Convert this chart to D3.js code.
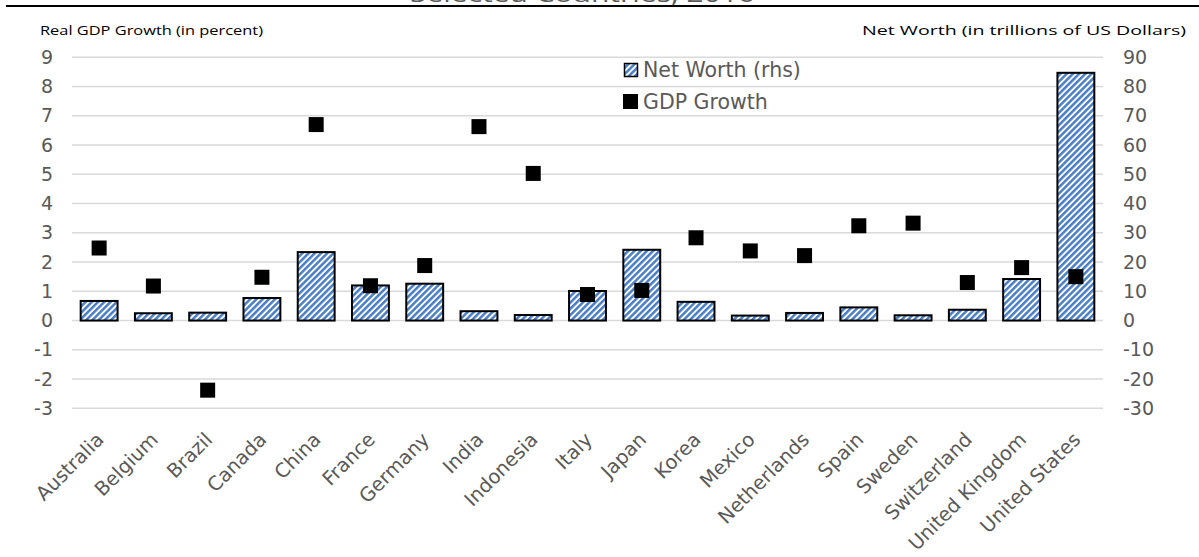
<!DOCTYPE html>
<html>
<head>
<meta charset="utf-8">
<script src="https://cdn.jsdelivr.net/npm/d3@7"></script>
<style>
html,body{margin:0;padding:0;background:#fff;}
svg{display:block;}
</style>
</head>
<body>
<svg id="chart" width="1199" height="557"></svg>
<script>
const categories = ["Australia","Belgium","Brazil","Canada","China","France","Germany","India","Indonesia","Italy","Japan","Korea","Mexico","Netherlands","Spain","Sweden","Switzerland","United Kingdom","United States"];
const netWorth = [6.7,2.5,2.7,7.7,23.4,12.0,12.6,3.2,1.9,10.1,24.2,6.4,1.7,2.6,4.5,1.8,3.7,14.2,84.7];
const gdpGrowth = [2.48,1.18,-2.38,1.48,6.7,1.19,1.88,6.63,5.03,0.89,1.03,2.83,2.38,2.22,3.24,3.33,1.30,1.81,1.50];
const leftTicks = [-3,-2,-1,0,1,2,3,4,5,6,7,8,9];
const rightTicks = [-30,-20,-10,0,10,20,30,40,50,60,70,80,90];

const svg = d3.select("#chart");
const x0 = 72, x1 = 1103, yTop = 57.3, yBot = 408.3;
const x = d3.scaleBand().domain(categories).range([x0, x1]).paddingInner(0.32).paddingOuter(0.16);
const xc = d => x(d) + x.bandwidth()/2;
const yL = d3.scaleLinear().domain([-3, 9]).range([yBot, yTop]);
const yR = d3.scaleLinear().domain([-30, 90]).range([yBot, yTop]);
const FONT = "DejaVu Sans, Verdana, sans-serif";
const GRAY = "#595959";

const defs = svg.append("defs");
const pat = defs.append("pattern").attr("id","hatch").attr("patternUnits","userSpaceOnUse")
  .attr("width",4.4).attr("height",4.4).attr("patternTransform","rotate(45)");
pat.append("rect").attr("width",4.4).attr("height",4.4).attr("fill","#fff");
pat.append("rect").attr("width",2.5).attr("height",4.4).attr("fill","#4a7ec6");

// title (cut off at top edge, as in the reference) and top rule
svg.append("text").attr("x",410).attr("y",1.8)
  .attr("textLength",345).attr("lengthAdjust","spacingAndGlyphs")
  .attr("font-family","Open Sans, sans-serif").attr("font-size",22).attr("fill",GRAY)
  .text("Selected Countries, 2016");
svg.append("rect").attr("x",6).attr("y",5).attr("width",1193).attr("height",2).attr("fill","#000");

// axis titles
svg.append("text").attr("x",40).attr("y",35).attr("font-family","Open Sans, sans-serif")
  .attr("textLength",223).attr("lengthAdjust","spacingAndGlyphs")
  .attr("font-size",13).attr("fill","#000").text("Real GDP Growth (in percent)");
svg.append("text").attr("x",862).attr("y",35).attr("font-family","Open Sans, sans-serif")
  .attr("textLength",324).attr("lengthAdjust","spacingAndGlyphs")
  .attr("font-size",13).attr("fill","#000").text("Net Worth (in trillions of US Dollars)");

// gridlines
svg.append("g").selectAll("line").data(leftTicks).join("line")
  .attr("x1",x0).attr("x2",x1).attr("y1",d=>yL(d)).attr("y2",d=>yL(d))
  .attr("stroke","#d9d9d9").attr("stroke-width",1.5);

// left axis
const gl = svg.append("g").attr("transform",`translate(${x0},0)`)
  .call(d3.axisLeft(yL).tickValues(leftTicks).tickSize(0).tickPadding(19).tickFormat(d => String(d)));
gl.select(".domain").remove();
gl.selectAll("text").attr("font-family",FONT).attr("font-size",19).attr("fill",GRAY);

// right axis
const gr = svg.append("g").attr("transform",`translate(${x1},0)`)
  .call(d3.axisRight(yR).tickValues(rightTicks).tickSize(0).tickPadding(20).tickFormat(d => String(d)));
gr.select(".domain").remove();
gr.selectAll("text").attr("font-family",FONT).attr("font-size",19).attr("fill",GRAY);

// bars
svg.append("g").selectAll("rect").data(categories).join("rect")
  .attr("x",d=>x(d)).attr("width",x.bandwidth())
  .attr("y",(d,i)=>yR(netWorth[i])).attr("height",(d,i)=>yR(0)-yR(netWorth[i]))
  .attr("fill","url(#hatch)").attr("stroke","#000").attr("stroke-width",2);

// points
const s = 15;
svg.append("g").selectAll("rect").data(categories).join("rect")
  .attr("x",d=>xc(d)-s/2).attr("y",(d,i)=>yL(gdpGrowth[i])-s/2)
  .attr("width",s).attr("height",s).attr("fill","#000");

// x labels
svg.append("g").selectAll("text").data(categories).join("text")
  .attr("transform",d=>`translate(${xc(d)+1},${436}) rotate(-45)`)
  .attr("text-anchor","end").attr("dy","0.35em")
  .attr("font-family",FONT).attr("font-size",19.5).attr("fill",GRAY)
  .text(d=>d);

// legend
const lg = svg.append("g");
lg.append("rect").attr("x",624.5).attr("y",63.5).attr("width",13).attr("height",13)
  .attr("fill","url(#hatch)").attr("stroke","#000").attr("stroke-width",1.5);
lg.append("text").attr("x",643).attr("y",77).attr("font-family",FONT)
  .attr("font-size",20.5).attr("fill",GRAY).text("Net Worth (rhs)");
lg.append("rect").attr("x",623).attr("y",94).attr("width",15).attr("height",15).attr("fill","#000");
lg.append("text").attr("x",643).attr("y",108.5).attr("font-family",FONT)
  .attr("font-size",20.5).attr("fill",GRAY).text("GDP Growth");
</script>
</body>
</html>
